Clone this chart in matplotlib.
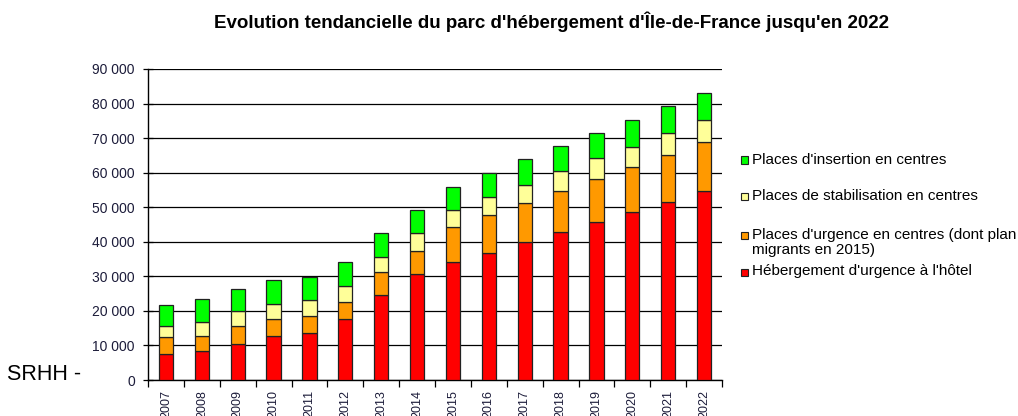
import matplotlib
matplotlib.use("Agg")
import matplotlib.pyplot as plt
import numpy as np
from matplotlib.patches import Rectangle

plt.rcParams['font.family'] = ['Liberation Sans', 'DejaVu Sans']

years = [str(y) for y in range(2007, 2023)]
# cumulative tops
hotel_top = [7630, 8490, 10520, 12640, 13710, 17570, 24610, 30690,
             34070, 36870, 39860, 42760, 45660, 48650, 51450, 54830]
urgence_top = [12360, 12840, 15540, 17660, 18630, 22680, 31370, 37450,
               44210, 47780, 51160, 54730, 58300, 61780, 65250, 68820]
stab_top = [15730, 16890, 19880, 21910, 23260, 27220, 35710, 42470,
            49230, 53090, 56560, 60420, 64190, 67570, 71430, 75190]
total_top = [21720, 23550, 26450, 28860, 29920, 34070, 42570, 49320,
             55980, 59850, 63900, 67760, 71620, 75290, 79150, 83010]

hotel = np.array(hotel_top)
urgence = np.array(urgence_top) - np.array(hotel_top)
stabilisation = np.array(stab_top) - np.array(urgence_top)
insertion = np.array(total_top) - np.array(stab_top)

labels = ["Hébergement d'urgence à l'hôtel",
          "Places d'urgence en centres (dont plan\nmigrants en 2015)",
          "Places de stabilisation en centres",
          "Places d'insertion en centres"]
colors = ['#FF0000', '#FF9900', '#FFFF99', '#00FF00']
series = [hotel, urgence, stabilisation, insertion]

W, H = 1018, 416
fig = plt.figure(figsize=(W / 100, H / 100), dpi=100)
ax = fig.add_axes([148/W, 36/H, (722-148)/W, (380-69)/H])

x = np.arange(len(years))
bottom = np.zeros(len(years))
for vals, c, lab in zip(series, colors, labels):
    ax.bar(x, vals, 0.4, bottom=bottom, color=c, edgecolor='#222222',
           linewidth=0.9, label=lab, zorder=3)
    bottom += vals

ax.set_xlim(-0.5, len(years) - 0.5)
ax.set_ylim(0, 90000)
ax.set_yticks(np.arange(0, 90001, 10000))
ax.set_yticklabels([f"{v:,}".replace(",", " ") for v in range(0, 90001, 10000)],
                   fontsize=10, color='#1c1c3a')
ax.yaxis.grid(True, color='black', linewidth=0.9, zorder=0)
ax.tick_params(axis='y', direction='inout', length=7, width=0.9, pad=6)

ax.set_xticks(x)
ax.set_xticklabels(years, rotation=90, fontsize=9, color='#1c1c3a')
ax.set_xticks(np.arange(-0.5, len(years), 1), minor=True)
ax.tick_params(axis='x', which='major', length=0, pad=7)
ax.tick_params(axis='x', which='minor', length=5, width=0.9, direction='out')

for s in ['top', 'right']:
    ax.spines[s].set_visible(False)
for s in ['left', 'bottom']:
    ax.spines[s].set_linewidth(1.0)

fig.text(551/W, 1 - 22/H,
         "Evolution tendancielle du parc d'hébergement d'Île-de-France jusqu'en 2022",
         ha='center', va='center', fontsize=13.5, fontweight='bold')

fig.text(7/W, 1 - 374/H, "SRHH -", ha='left', va='center', fontsize=15.5)

# manual legend (top to bottom: insertion, stabilisation, urgence, hotel)
handle_y = [160, 196.5, 235, 272]
text_y = [159.5, 196, 242.5, 271.5]
for c, lab, hy, ty in zip(colors[::-1], labels[::-1], handle_y, text_y):
    fig.patches.append(Rectangle((741/W, 1 - (hy + 3.5)/H), 7/W, 7/H,
                                 transform=fig.transFigure, facecolor=c,
                                 edgecolor='#222222', linewidth=0.8))
    fig.text(752/W, 1 - ty/H, lab, ha='left', va='center', fontsize=11,
             linespacing=1.12)

fig.savefig("out.png", dpi=100)
